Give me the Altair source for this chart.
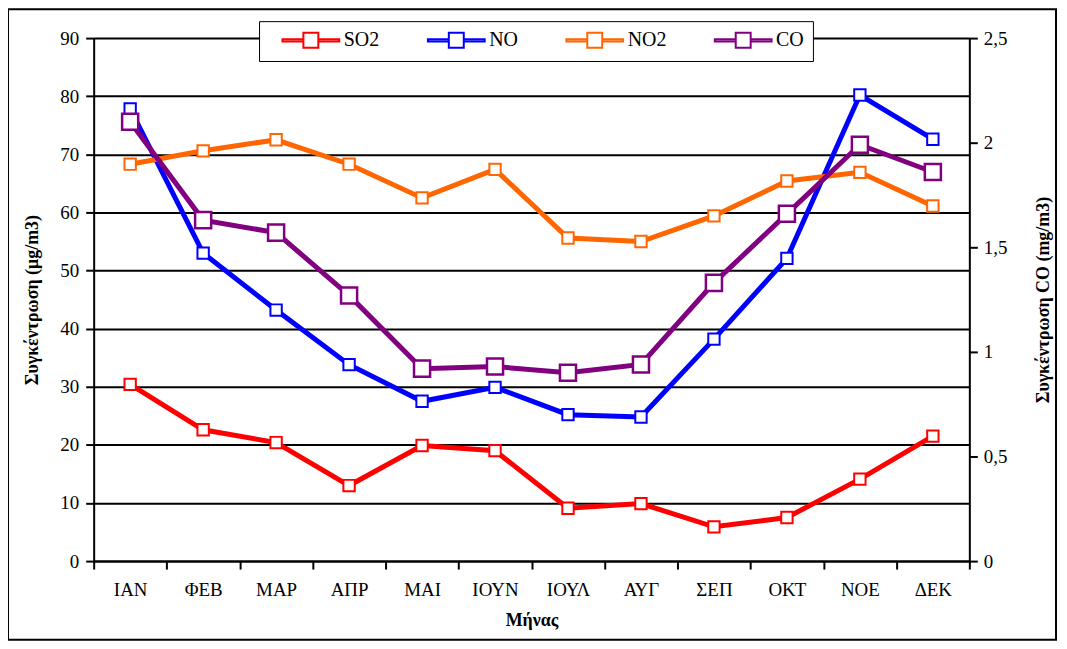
import altair as alt
import pandas as pd

months = ["ΙΑΝ", "ΦΕΒ", "ΜΑΡ", "ΑΠΡ", "ΜΑΙ", "ΙΟΥΝ", "ΙΟΥΛ", "ΑΥΓ", "ΣΕΠ", "ΟΚΤ", "ΝΟΕ", "ΔΕΚ"]
so2 = [30.4, 22.6, 20.4, 13.0, 19.9, 19.0, 9.1, 9.9, 5.9, 7.5, 14.1, 21.5]
no = [77.8, 53.0, 43.2, 33.8, 27.5, 29.9, 25.2, 24.8, 38.2, 52.1, 80.2, 72.6]
no2 = [68.3, 70.6, 72.5, 68.3, 62.5, 67.4, 55.6, 55.0, 59.4, 65.4, 66.9, 61.1]
co = [2.10, 1.63, 1.57, 1.27, 0.92, 0.93, 0.90, 0.94, 1.33, 1.66, 1.99, 1.86]

series_names = ["SO2", "NO", "NO2", "CO"]
series_colors = ["#FF0000", "#0000FF", "#FF6600", "#800080"]

left_rows = []
for name, vals in (("SO2", so2), ("NO", no), ("NO2", no2)):
    for m, v in zip(months, vals):
        left_rows.append({"month": m, "series": name, "value": v})
left_df = pd.DataFrame(left_rows)
co_df = pd.DataFrame({"month": months, "series": "CO", "value": co})

FONT = "Liberation Serif"

# legend symbol: line - open square - line (custom path in [-1,1] units)
sym = ("M-3.8,-0.14H-1V0.14H-3.8Z"
       "M1,-0.14H3.8V0.14H1Z"
       "M-1,-1H1V1H-1Z")

color_scale = alt.Scale(domain=series_names, range=series_colors)
legend = alt.Legend(
    title=None, orient="none", legendX=166, legendY=-17, direction="horizontal",
    symbolType=sym, symbolSize=225, symbolStrokeWidth=2, symbolFillColor="white",
    symbolOffset=33, labelOffset=23, columnPadding=34,
    labelFont=FONT, labelFontSize=20, labelColor="black",
    strokeColor="black", fillColor="white", padding=9, cornerRadius=0,
)

x_enc = alt.X("month:N", sort=months, scale=alt.Scale(paddingInner=0, paddingOuter=0),
              axis=alt.Axis(title="Μήνας", labelAngle=0, tickBand="extent", grid=False,
                            labelPadding=12, titlePadding=12))

y_left = alt.Y("value:Q", scale=alt.Scale(domain=[0, 90], nice=False),
               axis=alt.Axis(title="Συγκέντρωση (μg/m3)", values=list(range(0, 91, 10)),
                             grid=True, labelPadding=7, titlePadding=18))
y_right = alt.Y("value:Q", scale=alt.Scale(domain=[0, 2.5], nice=False),
                axis=alt.Axis(title="Συγκέντρωση CO (mg/m3)", orient="right",
                              values=[0, 0.5, 1, 1.5, 2, 2.5], grid=False,
                              labelExpr="replace(toString(datum.value), '.', ',')",
                              titleAngle=270, labelPadding=6, titlePadding=46))

color_enc = alt.Color("series:N", scale=color_scale, legend=legend)

left_lines = alt.Chart(left_df).mark_line(strokeWidth=5).encode(
    x=x_enc, y=y_left, color=color_enc, detail="series:N")
left_points = alt.Chart(left_df).mark_point(
    shape="square", filled=False, fill="white", fillOpacity=1, size=130, strokeWidth=2, opacity=1
).encode(x=x_enc, y=y_left, color=color_enc)

right_line = alt.Chart(co_df).mark_line(strokeWidth=5).encode(
    x=x_enc, y=y_right, color=color_enc)
right_points = alt.Chart(co_df).mark_point(
    shape="square", filled=False, fill="white", fillOpacity=1, size=260, strokeWidth=2.5, opacity=1
).encode(x=x_enc, y=y_right, color=color_enc)

left = alt.layer(left_lines, left_points)
right = alt.layer(right_line, right_points)

frame = alt.Chart(pd.DataFrame({"k": [0]})).mark_rect(
    fill="white", fillOpacity=0, stroke="black", strokeWidth=2
).encode(x=alt.value(-86), x2=alt.value(966), y=alt.value(-29), y2=alt.value(604))

chart = alt.layer(frame, left, right).resolve_scale(y="independent").properties(
    width=879, height=525,
    autosize=alt.AutoSizeParams(type="none"),
    padding={"left": 86, "top": 29, "right": 90, "bottom": 80},
).configure(background="white").configure_view(stroke=None).configure_axis(
    labelFont=FONT, labelFontSize=19, labelColor="black",
    titleFont=FONT, titleFontSize=18, titleFontWeight="bold", titleColor="black",
    domainColor="black", domainWidth=2, tickColor="black", tickWidth=2, tickSize=8,
    gridColor="black", gridWidth=2, gridOpacity=1,
)

chart.save("out.html", embed_options={"renderer": "svg", "actions": False})
